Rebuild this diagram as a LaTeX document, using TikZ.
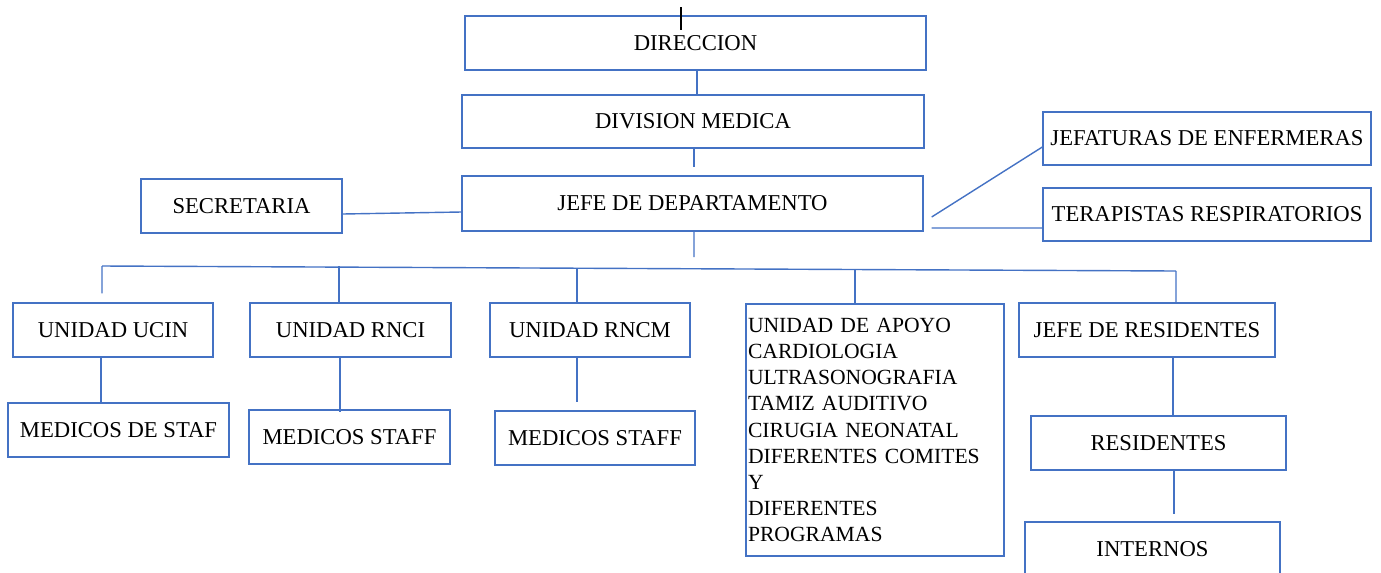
\documentclass[tikz,border=0pt]{standalone}
\usepackage{fontspec}
\setmainfont{Liberation Serif}
\definecolor{orgblue}{HTML}{4472C4}
\begin{document}
\begin{tikzpicture}[x = 0.02cm, y = -0.02cm,
   caja/.style = {draw=orgblue, line width=0.8pt, inner sep=0pt, minimum height=1.08cm,
                  font=\fontsize{12.9}{15}\selectfont},
   linea/.style = {draw=orgblue, line width=0.8pt}]
   \useasboundingbox (0,0) rectangle (1381,572);
   \clip (0,0) rectangle (1381,572);

   \node[caja, minimum width=9.22cm] (dir) at (695.5,43) {DIRECCION};
   \node[caja, minimum width=9.24cm, minimum height=1.06cm] (div) at (693,121.5) {DIVISION MEDICA};
   \node[caja, minimum width=9.22cm, minimum height=1.10cm] (jefe) at (692.5,203.5) {JEFE DE DEPARTAMENTO};
   \node[caja, minimum width=4.02cm] (sec) at (241.5,206) {SECRETARIA};
   \node[caja, minimum width=6.56cm, minimum height=1.06cm] (jefenf) at (1207,138.5) {JEFATURAS DE ENFERMERAS};
   \node[caja, minimum width=6.56cm, minimum height=1.06cm] (terap) at (1207,214.5) {TERAPISTAS RESPIRATORIOS};

   \node[caja, minimum width=4.00cm] (ucin) at (113,330) {UNIDAD UCIN};
   \node[caja, minimum width=4.02cm] (rnci) at (350.5,330) {UNIDAD RNCI};
   \node[caja, minimum width=4.00cm] (rncm) at (590,330) {UNIDAD RNCM};
   \node[caja, minimum width=5.16cm, minimum height=5.04cm, inner xsep=0.04cm, text width=5.08cm,
         align=left, font=\fontsize{12.3}{14.9}\selectfont] (apoyo) at (875,430)
         {UNIDAD DE APOYO\\CARDIOLOGIA\\ULTRASONOGRAFIA\\TAMIZ AUDITIVO\\CIRUGIA NEONATAL\\DIFERENTES COMITES\\Y\\DIFERENTES\\PROGRAMAS};
   \node[caja, minimum width=5.12cm] (jres) at (1147,330) {JEFE DE RESIDENTES};

   \node[caja, minimum width=4.42cm] (med1) at (118.5,430) {MEDICOS DE STAF};
   \node[caja, minimum width=4.02cm] (med2) at (349.5,437) {MEDICOS STAFF};
   \node[caja, minimum width=4.00cm] (med3) at (595,438) {MEDICOS STAFF};
   \node[caja, minimum width=5.10cm] (resid) at (1158.5,443) {RESIDENTES};
   \node[caja, minimum width=5.10cm] (intern) at (1152.5,549) {INTERNOS};

   \coordinate (tickA) at (681,7);
   \coordinate (tickB) at (681,30);
   \coordinate (jefeEnd) at (694,257);
   \coordinate (busL) at (102,266);
   \coordinate (busR) at (1176,271);

   \draw[line width=0.8pt] (tickA) -- (tickB);
   \draw[linea] ([xshift=0.03cm]dir.south) -- ([xshift=0.03cm]dir.south |- div.north);
   \draw[linea, shorten >=0.16cm] ([xshift=0.02cm]div.south) -- ([xshift=0.02cm]div.south |- jefe.north);
   \draw[linea] ([yshift=-0.16cm]sec.east) -- ([yshift=-0.17cm]jefe.west);
   \draw[linea] ([xshift=0.16cm,yshift=-0.27cm]jefe.east) -- ([yshift=-0.17cm]jefenf.west);
   \draw[linea] ([xshift=0.16cm,yshift=-0.49cm]jefe.east) -- ([yshift=-0.27cm]terap.west);
   \draw[linea] ([xshift=0.03cm]jefe.south) -- (jefeEnd);

   \draw[linea] (busL) -- (busR);
   \draw[linea] (busL) -- ([xshift=-0.22cm,yshift=0.18cm]ucin.north);
   \draw[linea] ([xshift=-0.23cm]rnci.north |- busL) -- ([xshift=-0.23cm]rnci.north);
   \draw[linea] ([xshift=-0.26cm,yshift=-0.05cm]rncm.north |- busL) -- ([xshift=-0.26cm]rncm.north);
   \draw[linea] ([xshift=-0.40cm,yshift=-0.08cm]apoyo.north |- busL) -- ([xshift=-0.40cm]apoyo.north);
   \draw[linea] (busR) -- ([xshift=0.58cm]jres.north);

   \draw[linea] ([xshift=-0.24cm]ucin.south) -- ([xshift=-0.24cm]ucin.south |- med1.north);
   \draw[linea] ([xshift=-0.21cm]rnci.south) -- ([xshift=-0.21cm,yshift=-0.06cm]rnci.south |- med2.north);
   \draw[linea, shorten >=0.16cm] ([xshift=-0.26cm]rncm.south) -- ([xshift=-0.26cm]rncm.south |- med3.north);
   \draw[linea] ([xshift=0.52cm]jres.south) -- ([xshift=0.52cm]jres.south |- resid.north);
   \draw[linea, shorten >=0.14cm] ([xshift=0.31cm]resid.south) -- ([xshift=0.31cm]resid.south |- intern.north);
\end{tikzpicture}
\end{document}
